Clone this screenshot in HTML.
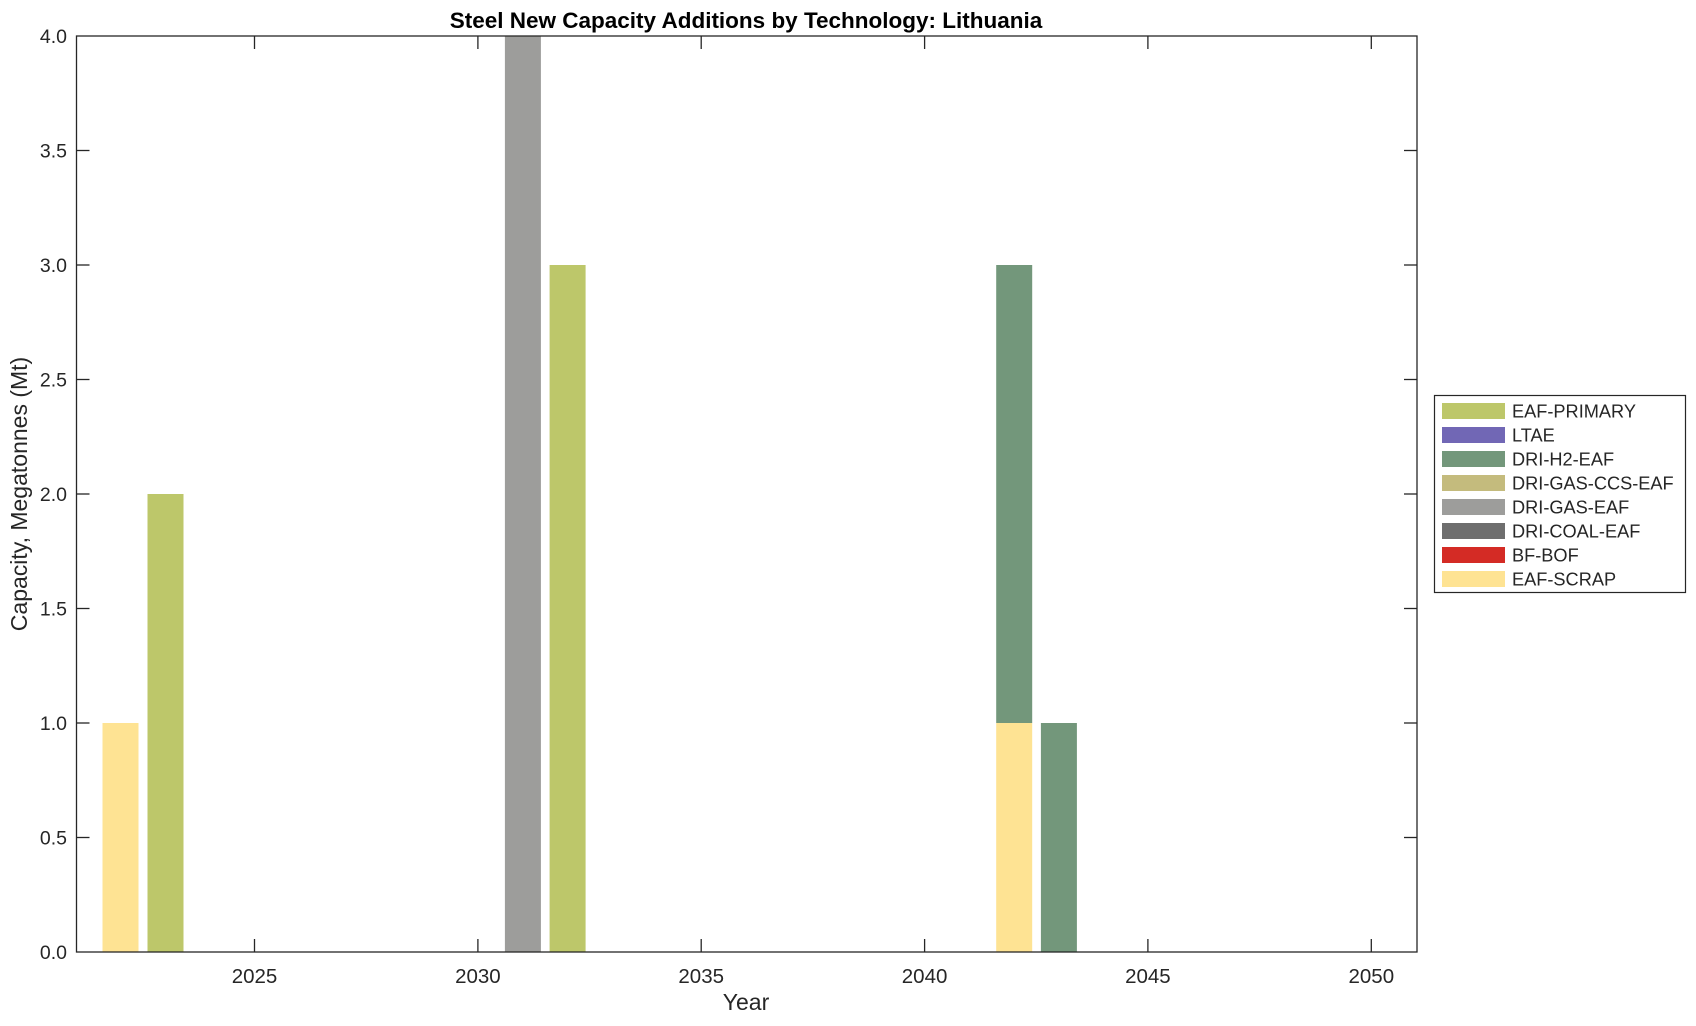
<!DOCTYPE html>
<html><head><meta charset="utf-8"><style>
html,body{margin:0;padding:0;background:#fff;}
svg text{font-family:"Liberation Sans",Arial,sans-serif;fill:#262626;}
</style></head><body>
<svg width="1696" height="1021" viewBox="0 0 1696 1021" xmlns="http://www.w3.org/2000/svg">
<rect width="1696" height="1021" fill="#fff"/>
<g stroke="none">
<rect x="102.5" y="723" width="36" height="229" fill="#fee393"/>
<rect x="147.5" y="494" width="36" height="458" fill="#bdc76a"/>
<rect x="504.9" y="36" width="36" height="916" fill="#9d9d9b"/>
<rect x="549.6" y="265" width="36" height="687" fill="#bdc76a"/>
<rect x="996.2" y="723" width="36" height="229" fill="#fee393"/>
<rect x="996.2" y="265" width="36" height="458" fill="#73977b"/>
<rect x="1040.9" y="723" width="36" height="229" fill="#73977b"/>
</g>
<rect x="76.5" y="36" width="1340.5" height="916" fill="none" stroke="#262626" stroke-width="1.3"/>
<g stroke="#262626" stroke-width="1.3">
<line x1="254.5" y1="952" x2="254.5" y2="939"/><line x1="254.5" y1="36" x2="254.5" y2="49"/>
<line x1="477.9" y1="952" x2="477.9" y2="939"/><line x1="477.9" y1="36" x2="477.9" y2="49"/>
<line x1="701.2" y1="952" x2="701.2" y2="939"/><line x1="701.2" y1="36" x2="701.2" y2="49"/>
<line x1="924.6" y1="952" x2="924.6" y2="939"/><line x1="924.6" y1="36" x2="924.6" y2="49"/>
<line x1="1147.9" y1="952" x2="1147.9" y2="939"/><line x1="1147.9" y1="36" x2="1147.9" y2="49"/>
<line x1="1371.3" y1="952" x2="1371.3" y2="939"/><line x1="1371.3" y1="36" x2="1371.3" y2="49"/>
<line x1="76.5" y1="837.5" x2="89.5" y2="837.5"/><line x1="1417" y1="837.5" x2="1404" y2="837.5"/>
<line x1="76.5" y1="723" x2="89.5" y2="723"/><line x1="1417" y1="723" x2="1404" y2="723"/>
<line x1="76.5" y1="608.5" x2="89.5" y2="608.5"/><line x1="1417" y1="608.5" x2="1404" y2="608.5"/>
<line x1="76.5" y1="494" x2="89.5" y2="494"/><line x1="1417" y1="494" x2="1404" y2="494"/>
<line x1="76.5" y1="379.5" x2="89.5" y2="379.5"/><line x1="1417" y1="379.5" x2="1404" y2="379.5"/>
<line x1="76.5" y1="265" x2="89.5" y2="265"/><line x1="1417" y1="265" x2="1404" y2="265"/>
<line x1="76.5" y1="150.5" x2="89.5" y2="150.5"/><line x1="1417" y1="150.5" x2="1404" y2="150.5"/>
</g>
<g font-size="20.5" text-anchor="middle">
<text x="254.5" y="983">2025</text>
<text x="477.9" y="983">2030</text>
<text x="701.2" y="983">2035</text>
<text x="924.6" y="983">2040</text>
<text x="1147.9" y="983">2045</text>
<text x="1371.3" y="983">2050</text>
</g>
<g font-size="19.5" text-anchor="end">
<text x="67" y="959">0.0</text>
<text x="67" y="844.5">0.5</text>
<text x="67" y="730">1.0</text>
<text x="67" y="615.5">1.5</text>
<text x="67" y="501">2.0</text>
<text x="67" y="386.5">2.5</text>
<text x="67" y="272">3.0</text>
<text x="67" y="157.5">3.5</text>
<text x="67" y="43">4.0</text>
</g>
<text x="746" y="1010" font-size="23" text-anchor="middle">Year</text>
<text transform="translate(27,494) rotate(-90)" font-size="23" text-anchor="middle">Capacity, Megatonnes (Mt)</text>
<text x="746" y="28" font-size="22.5" font-weight="bold" text-anchor="middle" style="fill:#000">Steel New Capacity Additions by Technology: Lithuania</text>
<rect x="1434.5" y="395.5" width="251" height="197" fill="#fff" stroke="#262626" stroke-width="1.2"/>
<g>
<rect x="1442" y="403" width="63" height="16" fill="#bdc76a"/>
<rect x="1442" y="427" width="63" height="16" fill="#7167b5"/>
<rect x="1442" y="451" width="63" height="16" fill="#73977b"/>
<rect x="1442" y="475" width="63" height="16" fill="#c4bb7d"/>
<rect x="1442" y="499" width="63" height="16" fill="#9d9d9b"/>
<rect x="1442" y="523" width="63" height="16" fill="#6e6e6e"/>
<rect x="1442" y="547" width="63" height="16" fill="#d42b25"/>
<rect x="1442" y="571" width="63" height="16" fill="#fee393"/>
</g>
<g font-size="18.2" style="fill:#000">
<text x="1512" y="417.5">EAF-PRIMARY</text>
<text x="1512" y="441.5">LTAE</text>
<text x="1512" y="465.5">DRI-H2-EAF</text>
<text x="1512" y="489.5">DRI-GAS-CCS-EAF</text>
<text x="1512" y="513.5">DRI-GAS-EAF</text>
<text x="1512" y="537.5">DRI-COAL-EAF</text>
<text x="1512" y="561.5">BF-BOF</text>
<text x="1512" y="585.5">EAF-SCRAP</text>
</g>
</svg>
</body></html>
